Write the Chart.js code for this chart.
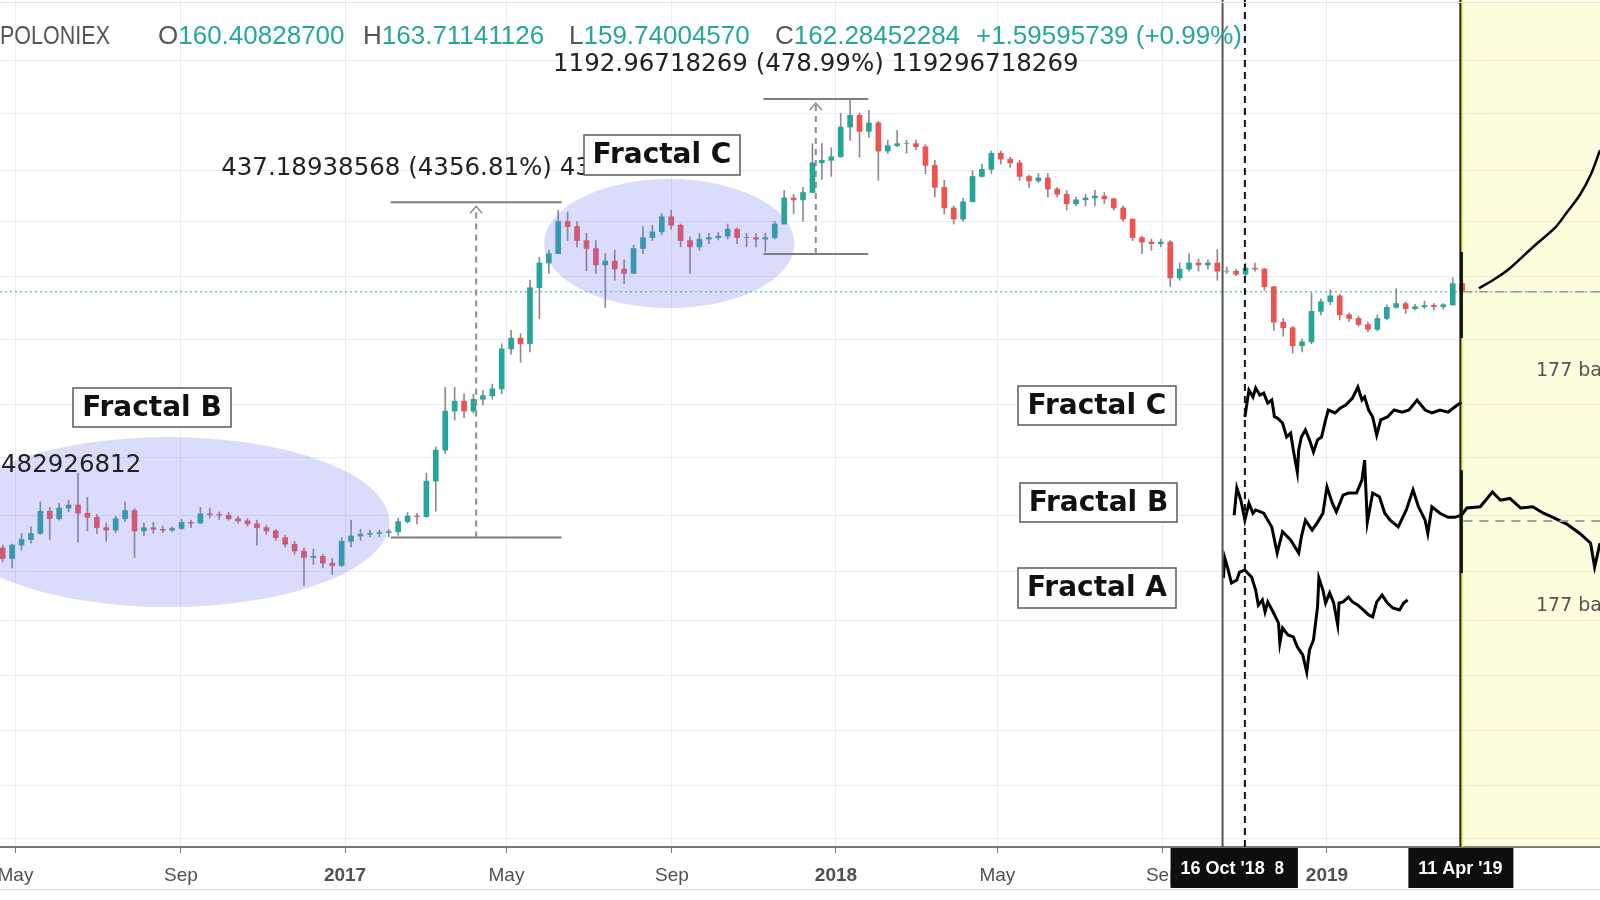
<!DOCTYPE html>
<html>
<head>
<meta charset="utf-8">
<title>ETH fractals</title>
<script src="https://cdn.jsdelivr.net/npm/chart.js@4.4.1/dist/chart.umd.min.js"></script>
<style>
  html, body { margin: 0; padding: 0; background: #ffffff; }
  #priceChart { display: block; }
</style>
</head>
<body>
<canvas id="priceChart" width="1600" height="900"></canvas>
<script>
// all days are counted from 1 Jan 2017, weekly candles start Mon 18 Apr 2016
var firstWeekDay = -258;
var firstOpen = 8.9;

var weekHigh = [9.2, 9.3, 10.5, 11.3, 15.0, 14.1, 14.8, 15.3, 20.8, 15.8,
    13.0, 11.8, 12.8, 15.0, 13.9, 11.8, 11.9, 11.4, 11.3, 12.3,
    12.2, 14.1, 14.0, 13.4, 13.3, 12.7, 12.4, 12.2, 11.5, 11.0,
    10.3, 9.6, 8.9, 8.8, 8.3, 7.9, 10.0, 12.2, 11.0, 10.9,
    10.9, 11.0, 12.5, 13.3, 13.2, 20.8, 28.0, 55, 55, 51,
    51, 53, 57, 90, 105, 101, 185, 240, 260, 409,
    400, 360, 315, 290, 250, 260, 233, 275, 340, 345,
    393, 409, 350, 303, 315, 315, 318, 350, 335, 315,
    315, 315, 360, 512, 490, 530, 870, 870, 830, 1230,
    1450, 1230, 1270, 1120, 905, 1010, 905, 905, 860, 720,
    574, 430, 470, 640, 690, 800, 800, 745, 720, 610,
    620, 620, 530, 512, 475, 490, 512, 500, 470, 430,
    370, 305, 295, 295, 290, 225, 250, 235, 233, 262,
    215, 210, 225, 225, 212, 172, 120, 110, 95, 160,
    150, 166, 158, 128, 123, 115, 125, 140, 168, 145,
    141, 146, 142, 142, 190, 185];
var weekLow = [7.6, 7.1, 8.7, 9.4, 10.4, 9.8, 12.2, 13.4, 9.5, 10.8,
    10.5, 9.6, 10.6, 12.0, 8.0, 10.2, 10.5, 10.6, 10.7, 11.0,
    11.2, 11.7, 12.5, 12.3, 12.2, 11.8, 11.4, 9.2, 10.4, 9.7,
    9.0, 8.3, 5.8, 7.4, 7.1, 6.6, 7.2, 9.0, 9.7, 10.1,
    10.1, 10.1, 10.3, 11.8, 11.7, 12.6, 13.5, 26, 38, 39,
    41, 45, 48, 51, 80, 73, 82, 120, 200, 250,
    290, 270, 206, 200, 136, 185, 178, 200, 250, 290,
    310, 330, 270, 200, 260, 280, 292, 295, 280, 270,
    270, 255, 295, 350, 393, 360, 500, 580, 600, 746,
    905, 746, 934, 574, 780, 839, 780, 810, 620, 475,
    393, 350, 360, 450, 595, 620, 690, 665, 574, 530,
    560, 475, 475, 410, 430, 430, 430, 440, 410, 360,
    290, 250, 260, 270, 172, 185, 205, 205, 210, 185,
    200, 195, 194, 205, 165, 105, 98, 81, 82, 90,
    125, 140, 118, 116, 110, 103, 104, 118, 135, 127,
    132, 134, 132, 133, 139, 158];
var weekClose = [7.9, 9.2, 9.8, 10.5, 13.5, 12.4, 14.0, 14.5, 13.2, 12.6,
    11.2, 10.9, 12.4, 13.6, 10.8, 11.2, 11.0, 10.9, 11.1, 11.9,
    11.8, 13.1, 13.0, 12.9, 12.4, 12.1, 11.7, 11.2, 10.8, 10.0,
    9.3, 8.6, 8.0, 8.1, 7.5, 7.3, 9.6, 10.2, 10.4, 10.5,
    10.6, 10.7, 12.0, 12.8, 12.7, 19.0, 27.0, 42, 47, 42,
    48, 50, 54, 85, 96, 90, 170, 225, 250, 360,
    340, 290, 265, 220, 230, 210, 200, 265, 300, 320,
    380, 345, 290, 270, 295, 300, 305, 330, 300, 300,
    295, 300, 350, 470, 460, 500, 700, 720, 750, 1050,
    1200, 1000, 1100, 800, 850, 870, 870, 840, 680, 530,
    420, 370, 450, 600, 650, 780, 730, 700, 600, 570,
    590, 520, 490, 440, 460, 470, 480, 465, 420, 370,
    300, 285, 280, 285, 190, 210, 225, 220, 225, 205,
    205, 198, 212, 210, 172, 115, 108, 88, 92, 130,
    145, 155, 125, 120, 112, 106, 120, 136, 142, 134,
    137, 139, 137, 140, 178, 162.28];

// drawn fractal copies (day, price)
var fracCDays = [669, 672, 675, 677, 680, 683, 686, 689, 691, 693, 697, 700, 703, 705, 708, 709, 711, 714, 717, 720,
    723, 726, 729, 731, 736, 740, 744, 749, 753, 756, 758, 761, 764, 767, 770, 775, 780, 786, 791, 797,
    803, 808, 814, 820, 825, 830];
var fracCPrices = [39.3, 53.3, 49.3, 54.5, 50.4, 51.5, 46.0, 47.6, 39.3, 38.9, 36.7, 31.3, 32.7, 27.0, 21.0, 27.0, 31.3, 33.9, 30.3, 26.4,
    30.3, 31.3, 38.0, 42.5, 41.1, 43.5, 45.0, 48.7, 55.1, 47.6, 49.3, 42.5, 39.3, 32.0, 38.0, 39.3, 42.5, 41.5, 42.5, 47.6,
    42.5, 41.1, 42.5, 41.5, 44.0, 46.5];
var fracBDays = [661, 663, 666, 669, 672, 675, 677, 683, 689, 693, 697, 703, 709, 711, 714, 719, 723, 727, 730, 734,
    737, 742, 746, 752, 756, 758, 760, 764, 769, 773, 777, 783, 789, 794, 798, 803, 805, 808, 814, 820,
    825, 830, 834, 844, 853, 859, 866, 874, 883, 891, 898, 908, 918, 926, 929, 933];
var fracBPrices = [12.9, 17.6, 15.3, 12.2, 14.8, 13.2, 13.7, 13.2, 11.3, 8.4, 10.7, 9.74, 8.4, 10.1, 12.2, 10.9, 11.9, 13.2, 17.8, 14.8,
    13.4, 16.2, 16.6, 16.6, 19.2, 24.1, 11.9, 16.6, 15.9, 13.2, 12.2, 11.3, 13.7, 17.2, 14.2, 12.2, 10.5, 14.2, 13.2, 12.6,
    12.6, 12.9, 14.0, 14.2, 16.8, 15.3, 15.6, 14.0, 14.2, 13.2, 12.6, 11.7, 10.5, 9.4, 7.17, 9.4];
var fracADays = [653, 654, 656, 659, 663, 665, 669, 671, 674, 677, 679, 682, 684, 686, 690, 694, 695, 697, 701, 705,
    708, 712, 715, 717, 720, 723, 724, 727, 729, 732, 735, 738, 739, 742, 746, 749, 753, 757, 761, 764,
    767, 771, 775, 779, 784, 787, 790];
var fracAPrices = [6.33, 7.95, 7.18, 5.99, 6.19, 6.77, 6.93, 6.70, 6.40, 5.53, 4.66, 4.94, 4.31, 4.83, 4.31, 3.80, 3.03, 3.59, 3.32, 3.25,
    2.90, 2.65, 2.18, 2.80, 3.14, 4.56, 6.33, 5.53, 4.77, 5.35, 4.77, 3.72, 4.77, 4.83, 5.10, 4.83, 4.66, 4.41, 4.17, 4.08,
    4.83, 5.22, 4.77, 4.51, 4.41, 4.77, 4.94];
var arcDays = [843, 855, 866, 883, 900, 908, 918, 926, 933];
var arcPrices = [169, 188, 212, 269, 338, 396, 486, 609, 807];

var gridPrices = [0.33, 0.6, 1.13, 2.1, 3.9, 6.8, 12.9, 24.8, 45, 95, 192, 361, 644, 1229, 2236];
var tickDays = [-245, -122, 0, 120, 243, 365, 485, 608, 730];
var tickLabels = ['May', 'Sep', '2017', 'May', 'Sep', '2018', 'May', 'Sep', '2019'];
var lastPrice = 162.28452284;

// annotation anchors
var oct16 = 652.4, nov1 = 669, apr11 = 829.2;
var measures = [
    { from: 34, to: 161, low: 10.035, high: 447.22, text: '437.18938568 (4356.81%) 43718938568' },
    { from: 311, to: 389, low: 249.06, high: 1442.03, text: '1192.96718269 (478.99%) 119296718269' }
];
var ellipses = [
    { from: -296, to: 33, low: 4.56, high: 31.3 },
    { from: 148, to: 334, low: 135, high: 582 }
];

var teal = '#26a69a';
var weekOpen = weekClose.map(function (c, i) { return i === 0 ? firstOpen : weekClose[i - 1]; });
var candleDays = weekClose.map(function (c, i) { return firstWeekDay + 7 * i + 3.5; });
var bodyColors = weekClose.map(function (c, i) { return c >= weekOpen[i] ? '#26a69a' : '#ef5350'; });

function pairs(days, prices) {
    return days.map(function (d, i) { return { x: d, y: prices[i] }; });
}

function strokeLine(c, x1, y1, x2, y2, color, width, dash) {
    c.save();
    c.strokeStyle = color;
    c.lineWidth = width;
    c.setLineDash(dash || []);
    c.beginPath();
    c.moveTo(x1, y1);
    c.lineTo(x2, y2);
    c.stroke();
    c.restore();
}

function drawTag(c, x, y, w, h, text) {
    c.fillStyle = '#ffffff';
    c.fillRect(x, y, w, h);
    c.strokeStyle = '#5a5a5a';
    c.lineWidth = 1.5;
    c.strokeRect(x, y, w, h);
    c.fillStyle = '#111111';
    c.font = 'bold 28px "DejaVu Sans"';
    c.textAlign = 'center';
    c.textBaseline = 'middle';
    c.fillText(text, x + w / 2, y + h / 2 + 1);
}

function drawDateTag(c, xc, text) {
    c.fillStyle = '#0e0e0e';
    c.fillRect(xc - 52, 848, 105, 40);
    c.fillStyle = '#ffffff';
    c.font = 'bold 18px "Liberation Sans"';
    c.textAlign = 'center';
    c.textBaseline = 'middle';
    c.fillText(text, xc, 869);
}

var overlay = {
    id: 'overlay',
    beforeDatasetsDraw: function (chart) {
        var c = chart.ctx, a = chart.chartArea;
        var zx = chart.scales.x.getPixelForValue(apr11);
        c.save();
        c.fillStyle = 'rgba(230,240,40,0.16)';
        c.fillRect(zx, a.top, a.right - zx, a.bottom - a.top);
        c.fillStyle = 'rgba(240,245,70,0.8)';
        c.fillRect(zx + 1, a.top, 2, a.bottom - a.top);
        c.restore();
    },
    afterDatasetsDraw: function (chart) {
        var c = chart.ctx, a = chart.chartArea;
        var sx = chart.scales.x, sy = chart.scales.y;
        c.save();

        // highlighted fractal zones
        c.fillStyle = 'rgba(110,110,240,0.25)';
        ellipses.forEach(function (e) {
            var x1 = sx.getPixelForValue(e.from), x2 = sx.getPixelForValue(e.to);
            var y1 = sy.getPixelForValue(e.high), y2 = sy.getPixelForValue(e.low);
            c.beginPath();
            c.ellipse((x1 + x2) / 2, (y1 + y2) / 2, (x2 - x1) / 2, (y2 - y1) / 2, 0, 0, Math.PI * 2);
            c.fill();
        });

        // last price line
        var yLast = sy.getPixelForValue(lastPrice);
        strokeLine(c, a.left, yLast, a.right, yLast, teal, 1, [2, 3]);

        // date markers
        var xOct = sx.getPixelForValue(oct16), xNov = sx.getPixelForValue(nov1), xApr = sx.getPixelForValue(apr11);
        strokeLine(c, xOct, a.top, xOct, a.bottom, '#555555', 2);
        strokeLine(c, xNov, a.top, xNov, a.bottom, '#111111', 2, [7, 5]);
        strokeLine(c, xApr, a.top, xApr, a.bottom, '#222222', 2);
        strokeLine(c, xApr + 1, sy.getPixelForValue(255), xApr + 1, sy.getPixelForValue(96), '#111111', 3);
        strokeLine(c, xApr + 1, sy.getPixelForValue(21.5), xApr + 1, sy.getPixelForValue(6.7), '#111111', 3);
        strokeLine(c, xApr + 3, yLast, a.right, yLast, '#9a9a9a', 1.5, [9, 7]);
        var yMid = sy.getPixelForValue(12.1);
        strokeLine(c, xApr + 3, yMid, a.right, yMid, '#a0a0a0', 2, [9, 7]);

        // price range measurements
        measures.forEach(function (m) {
            var x1 = sx.getPixelForValue(m.from), x2 = sx.getPixelForValue(m.to), xm = (x1 + x2) / 2;
            var yb = sy.getPixelForValue(m.low), yt = sy.getPixelForValue(m.high);
            strokeLine(c, x1, yb, x2, yb, '#7d7d7d', 2);
            strokeLine(c, x1, yt, x2, yt, '#7d7d7d', 2);
            strokeLine(c, xm, yb, xm, yt + 4, '#8c8c8c', 2, [6, 5]);
            c.strokeStyle = '#8c8c8c';
            c.lineWidth = 1.5;
            c.setLineDash([]);
            c.beginPath();
            c.moveTo(xm - 6, yt + 11);
            c.lineTo(xm, yt + 4);
            c.lineTo(xm + 6, yt + 11);
            c.stroke();
            c.font = '24.5px "DejaVu Sans"';
            c.fillStyle = '#222222';
            c.textAlign = 'center';
            c.textBaseline = 'middle';
            c.fillText(m.text, xm, yt - 34);
        });

        c.font = '24.5px "DejaVu Sans"';
        c.fillStyle = '#222222';
        c.textAlign = 'left';
        c.textBaseline = 'middle';
        c.fillText('482926812', 1, 466);

        c.font = '19px "DejaVu Sans"';
        c.fillStyle = '#555555';
        c.fillText('177 bars', 1536, 371);
        c.fillText('177 bars', 1536, 606);

        drawTag(c, 73, 388, 158, 39, 'Fractal B');
        drawTag(c, 584, 135, 156, 40, 'Fractal C');
        drawTag(c, 1018, 386, 158, 39, 'Fractal C');
        drawTag(c, 1020, 483, 157, 39, 'Fractal B');
        drawTag(c, 1018, 568, 158, 40, 'Fractal A');
        c.restore();
    },
    afterDraw: function (chart) {
        var c = chart.ctx, sx = chart.scales.x;
        c.save();
        strokeLine(c, 0, 2.5, 1600, 2.5, '#e0e3ea', 1);
        strokeLine(c, 0, 889.5, 1600, 889.5, '#d6d6d6', 1);
        drawDateTag(c, sx.getPixelForValue(nov1), "1 Nov '18");
        drawDateTag(c, sx.getPixelForValue(oct16), "16 Oct '18");
        drawDateTag(c, sx.getPixelForValue(apr11), "11 Apr '19");

        // header
        c.font = '26px "Liberation Sans"';
        c.textAlign = 'left';
        c.textBaseline = 'middle';
        c.fillStyle = '#555555';
        c.fillText('POLONIEX', 0, 37, 110);
        [['O', '160.40828700', 158], ['H', '163.71141126', 363], ['L', '159.74004570', 569], ['C', '162.28452284', 775]].forEach(function (p) {
            c.fillStyle = '#555555';
            c.fillText(p[0], p[2], 37);
            c.fillStyle = teal;
            c.fillText(p[1], p[2] + c.measureText(p[0]).width, 37);
        });
        c.fillStyle = teal;
        c.fillText('+1.59595739 (+0.99%)', 976, 37);
        c.restore();
    }
};

var priceCtx = document.getElementById('priceChart').getContext('2d');
var priceChart = new Chart(priceCtx, {
    type: 'bar',
    data: {
        datasets: [{
            label: 'Fractal C',
            type: 'line',
            data: pairs(fracCDays, fracCPrices),
            borderColor: '#000000',
            borderWidth: 3,
            pointRadius: 0,
            order: 1,
        }, {
            label: 'Fractal B',
            type: 'line',
            data: pairs(fracBDays, fracBPrices),
            borderColor: '#000000',
            borderWidth: 3,
            pointRadius: 0,
            order: 1,
        }, {
            label: 'Fractal A',
            type: 'line',
            data: pairs(fracADays, fracAPrices),
            borderColor: '#000000',
            borderWidth: 3,
            pointRadius: 0,
            order: 1,
        }, {
            label: 'Projection',
            type: 'line',
            data: pairs(arcDays, arcPrices),
            borderColor: '#000000',
            borderWidth: 2.5,
            pointRadius: 0,
            tension: 0.3,
            order: 1,
        }, {
            label: 'Wick',
            data: candleDays.map(function (d, i) { return { x: d, y: [weekLow[i], weekHigh[i]] }; }),
            backgroundColor: '#8b8b90',
            barThickness: 1,
            grouped: false,
            order: 4,
        }, {
            label: 'Body',
            data: candleDays.map(function (d, i) { return { x: d, y: [weekOpen[i], weekClose[i]] }; }),
            backgroundColor: bodyColors,
            barThickness: 5,
            grouped: false,
            order: 3,
        }],
    },
    options: {
        responsive: false,
        animation: false,
        devicePixelRatio: 1,
        events: [],
        layout: { padding: 0 },
        plugins: {
            legend: { display: false },
            tooltip: { enabled: false },
        },
        scales: {
            x: {
                type: 'linear',
                min: -256.5,
                max: 933,
                offset: false,
                afterBuildTicks: function (scale) {
                    scale.ticks = tickDays.map(function (d) { return { value: d }; });
                },
                afterFit: function (scale) {
                    scale.height = 53;
                    scale.paddingLeft = 0;
                    scale.paddingRight = 0;
                },
                ticks: {
                    autoSkip: false,
                    maxRotation: 0,
                    padding: 11,
                    color: '#505050',
                    font: function (ctx) {
                        var label = ctx.tick ? tickLabels[tickDays.indexOf(ctx.tick.value)] : '';
                        return { family: 'Liberation Sans', size: 19, weight: /^\d+$/.test(label || '') ? 'bold' : 'normal' };
                    },
                    callback: function (value) {
                        return tickLabels[tickDays.indexOf(value)];
                    },
                },
                grid: {
                    color: '#e8edf3',
                    tickColor: '#777777',
                    tickLength: 6,
                    offset: false,
                },
                border: { color: '#777777', width: 2 },
            },
            y: {
                type: 'logarithmic',
                min: 0.3005,
                max: 4430,
                bounds: 'data',
                afterBuildTicks: function (scale) {
                    scale.ticks = gridPrices.map(function (p) { return { value: p }; });
                },
                afterFit: function (scale) { scale.width = 0; },
                ticks: { display: false },
                grid: { color: '#e8edf3', drawTicks: false },
                border: { display: false },
            },
        },
    },
    plugins: [overlay],
});
</script>
</body>
</html>
